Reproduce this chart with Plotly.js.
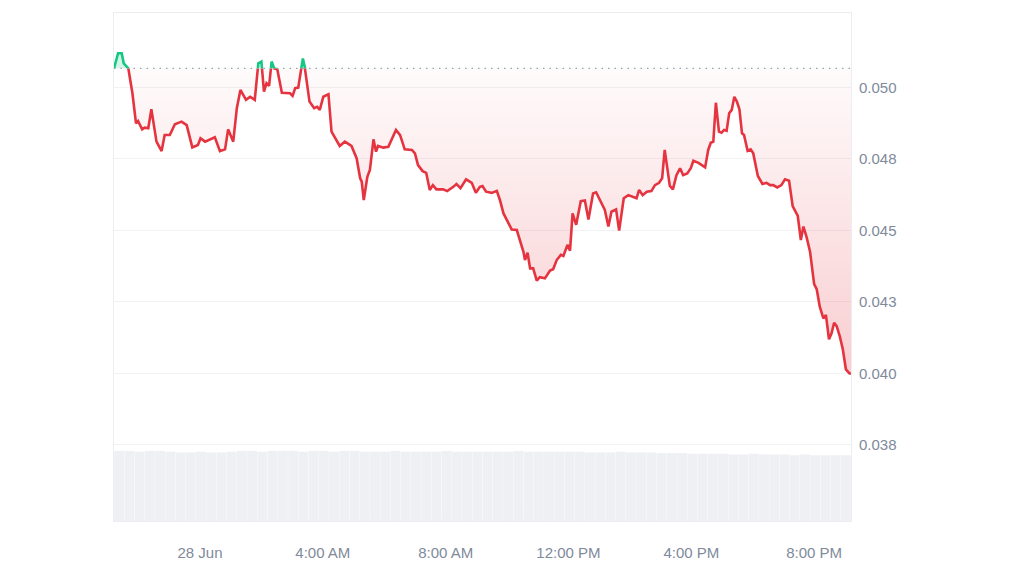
<!DOCTYPE html>
<html>
<head>
<meta charset="utf-8">
<script src="https://cdn.plot.ly/plotly-3.0.1.min.js"></script>
<style>
  html, body { margin: 0; padding: 0; background: #ffffff; }
  #chart { width: 1024px; height: 576px; }
</style>
</head>
<body>
<div id="chart"></div>
<script>
// ---- data ----
const baselinePrice = 0.05066;   // opening price of the 24h window (dotted line)
const windowStart = '2024-06-27 21:12';
const windowEnd = '2024-06-28 21:12';

const times = [
  '2024-06-27 21:12','2024-06-27 21:20','2024-06-27 21:27','2024-06-27 21:31','2024-06-27 21:40',
  '2024-06-27 21:48','2024-06-27 21:55','2024-06-27 21:59','2024-06-27 22:07','2024-06-27 22:12',
  '2024-06-27 22:19','2024-06-27 22:25','2024-06-27 22:35','2024-06-27 22:45','2024-06-27 22:51',
  '2024-06-27 23:01','2024-06-27 23:11','2024-06-27 23:24','2024-06-27 23:34','2024-06-27 23:45',
  '2024-06-27 23:56','2024-06-28 00:01','2024-06-28 00:10','2024-06-28 00:19','2024-06-28 00:29',
  '2024-06-28 00:39','2024-06-28 00:49','2024-06-28 00:55','2024-06-28 01:05','2024-06-28 01:12',
  '2024-06-28 01:19','2024-06-28 01:30','2024-06-28 01:38','2024-06-28 01:47','2024-06-28 01:54',
  '2024-06-28 02:00','2024-06-28 02:05','2024-06-28 02:10','2024-06-28 02:15','2024-06-28 02:20',
  '2024-06-28 02:25','2024-06-28 02:31','2024-06-28 02:40','2024-06-28 02:56','2024-06-28 03:01',
  '2024-06-28 03:06','2024-06-28 03:12','2024-06-28 03:21','2024-06-28 03:25','2024-06-28 03:34',
  '2024-06-28 03:43','2024-06-28 03:49','2024-06-28 03:54','2024-06-28 04:01','2024-06-28 04:11',
  '2024-06-28 04:17','2024-06-28 04:24','2024-06-28 04:33','2024-06-28 04:43','2024-06-28 04:56',
  '2024-06-28 05:06','2024-06-28 05:13','2024-06-28 05:16','2024-06-28 05:20','2024-06-28 05:27',
  '2024-06-28 05:32','2024-06-28 05:39','2024-06-28 05:44','2024-06-28 05:48','2024-06-28 05:58',
  '2024-06-28 06:08','2024-06-28 06:14','2024-06-28 06:23','2024-06-28 06:31','2024-06-28 06:40',
  '2024-06-28 06:54','2024-06-28 07:00','2024-06-28 07:06','2024-06-28 07:15','2024-06-28 07:22',
  '2024-06-28 07:29','2024-06-28 07:35','2024-06-28 07:42','2024-06-28 07:55','2024-06-28 08:03',
  '2024-06-28 08:15','2024-06-28 08:21','2024-06-28 08:29','2024-06-28 08:40','2024-06-28 08:51',
  '2024-06-28 08:59','2024-06-28 09:07','2024-06-28 09:12','2024-06-28 09:19','2024-06-28 09:30',
  '2024-06-28 09:40','2024-06-28 09:46','2024-06-28 09:53','2024-06-28 10:02','2024-06-28 10:09',
  '2024-06-28 10:19','2024-06-28 10:25','2024-06-28 10:32','2024-06-28 10:35','2024-06-28 10:40',
  '2024-06-28 10:45','2024-06-28 10:51','2024-06-28 10:58','2024-06-28 11:04','2024-06-28 11:14',
  '2024-06-28 11:24','2024-06-28 11:30','2024-06-28 11:37','2024-06-28 11:45','2024-06-28 11:50',
  '2024-06-28 11:58','2024-06-28 12:03','2024-06-28 12:08','2024-06-28 12:15','2024-06-28 12:24',
  '2024-06-28 12:32','2024-06-28 12:39','2024-06-28 12:48','2024-06-28 12:54','2024-06-28 13:02',
  '2024-06-28 13:11','2024-06-28 13:18','2024-06-28 13:24','2024-06-28 13:33','2024-06-28 13:39',
  '2024-06-28 13:48','2024-06-28 13:57','2024-06-28 14:13','2024-06-28 14:18','2024-06-28 14:25',
  '2024-06-28 14:33','2024-06-28 14:42','2024-06-28 14:49','2024-06-28 14:57','2024-06-28 15:03',
  '2024-06-28 15:08','2024-06-28 15:13','2024-06-28 15:18','2024-06-28 15:24','2024-06-28 15:31',
  '2024-06-28 15:38','2024-06-28 15:44','2024-06-28 15:52','2024-06-28 15:59','2024-06-28 16:04',
  '2024-06-28 16:14','2024-06-28 16:27','2024-06-28 16:33','2024-06-28 16:38','2024-06-28 16:43',
  '2024-06-28 16:48','2024-06-28 16:54','2024-06-28 16:59','2024-06-28 17:04','2024-06-28 17:09',
  '2024-06-28 17:14','2024-06-28 17:19','2024-06-28 17:24','2024-06-28 17:29','2024-06-28 17:34',
  '2024-06-28 17:39','2024-06-28 17:43','2024-06-28 17:50','2024-06-28 17:56','2024-06-28 18:01',
  '2024-06-28 18:10','2024-06-28 18:19','2024-06-28 18:27','2024-06-28 18:34','2024-06-28 18:40',
  '2024-06-28 18:48','2024-06-28 18:56','2024-06-28 19:03','2024-06-28 19:11','2024-06-28 19:18',
  '2024-06-28 19:28','2024-06-28 19:34','2024-06-28 19:39','2024-06-28 19:45','2024-06-28 19:52',
  '2024-06-28 20:00','2024-06-28 20:05','2024-06-28 20:11','2024-06-28 20:18','2024-06-28 20:23',
  '2024-06-28 20:29','2024-06-28 20:34','2024-06-28 20:39','2024-06-28 20:44','2024-06-28 20:50',
  '2024-06-28 20:56','2024-06-28 21:02','2024-06-28 21:09','2024-06-28 21:12'
];

const prices = [
  0.05066,0.05119,0.05119,0.05084,0.05066,
  0.04979,0.04874,0.04882,0.04853,0.04859,
  0.04857,0.04923,0.04810,0.04777,0.04833,
  0.04833,0.04871,0.04880,0.04868,0.04790,
  0.04798,0.04822,0.04810,0.04818,0.04825,
  0.04777,0.04783,0.04853,0.04810,0.04927,
  0.04991,0.04956,0.04967,0.04956,0.05084,
  0.05090,0.04985,0.05014,0.05005,0.05090,
  0.05066,0.05063,0.04981,0.04979,0.04970,
  0.04997,0.04999,0.05101,0.05066,0.04950,
  0.04927,0.04932,0.04921,0.04967,0.04976,
  0.04845,0.04825,0.04795,0.04810,0.04795,
  0.04752,0.04682,0.04670,0.04606,0.04687,
  0.04711,0.04818,0.04775,0.04795,0.04789,
  0.04792,0.04816,0.04851,0.04833,0.04783,
  0.04781,0.04769,0.04728,0.04707,0.04701,
  0.04641,0.04658,0.04643,0.04643,0.04637,
  0.04652,0.04662,0.04647,0.04678,0.04666,
  0.04631,0.04652,0.04655,0.04635,0.04631,
  0.04638,0.04606,0.04559,0.04524,0.04503,
  0.04501,0.04469,0.04425,0.04396,0.04422,
  0.04367,0.04367,0.04324,0.04336,0.04332,
  0.04359,0.04364,0.04396,0.04414,0.04410,
  0.04449,0.04429,0.04559,0.04519,0.04602,
  0.04604,0.04538,0.04629,0.04633,0.04606,
  0.04571,0.04513,0.04565,0.04573,0.04499,
  0.04612,0.04623,0.04612,0.04641,0.04623,
  0.04635,0.04637,0.04658,0.04666,0.04682,
  0.04781,0.04722,0.04655,0.04643,0.04693,
  0.04717,0.04693,0.04699,0.04717,0.04743,
  0.04736,0.04720,0.04781,0.04806,0.04810,
  0.04946,0.04845,0.04841,0.04851,0.04848,
  0.04909,0.04921,0.04967,0.04950,0.04923,
  0.04839,0.04833,0.04778,0.04783,0.04769,
  0.04690,0.04662,0.04666,0.04658,0.04658,
  0.04650,0.04658,0.04678,0.04673,0.04585,
  0.04550,0.04466,0.04513,0.04478,0.04425,
  0.04312,0.04294,0.04233,0.04192,0.04204,
  0.04119,0.04140,0.04177,0.04165,0.04130,
  0.04084,0.04014,0.04000,0.03998
];

// trading volume, 20-minute buckets (relative units)
const volumes = [
  101,101,100,101,101,100,99,99,100,99,99,100,
  101,101,100,101,101,101,100,101,101,100,101,101,
  100,100,100,101,100,100,100,100,101,100,100,100,
  100,100,100,101,100,100,100,100,100,100,99,99,
  99,100,99,99,99,98,98,98,97,97,97,97,
  96,96,97,96,96,96,95,96,95,95,95,95
];
const volumeBucketMinutes = 20;

const tickVals = ['2024-06-28 00:00','2024-06-28 04:00','2024-06-28 08:00','2024-06-28 12:00','2024-06-28 16:00','2024-06-28 20:00'];
const tickText = ['28 Jun','4:00 AM','8:00 AM','12:00 PM','4:00 PM','8:00 PM'];
const priceTickVals = [0.0375, 0.040, 0.0425, 0.045, 0.0475, 0.050];
const priceTickText = ['0.038','0.040','0.043','0.045','0.048','0.050'];

// ---- build ----
const yMin = 0.034836, yMax = 0.052598;
const split = (baselinePrice - yMin) / (yMax - yMin);

function toDateStr(ms) {
  const d = new Date(ms);
  const p = n => String(n).padStart(2, '0');
  return d.getUTCFullYear() + '-' + p(d.getUTCMonth() + 1) + '-' + p(d.getUTCDate()) + ' ' +
         p(d.getUTCHours()) + ':' + p(d.getUTCMinutes());
}
const startMs = Date.parse(windowStart.replace(' ', 'T') + ':00Z');
const volTimes = volumes.map((v, i) => toDateStr(startMs + (i + 0.5) * volumeBucketMinutes * 60000));

const RED = '#e5343f';
const GREEN = '#16c784';
const textColor = '#808a9b';
const font = 'Liberation Sans, Arial, sans-serif';

const traces = [
  {
    type: 'bar', x: volTimes, y: volumes, xaxis: 'x', yaxis: 'y2',
    marker: { color: '#eef0f3', line: { width: 0 } },
    hoverinfo: 'skip', showlegend: false
  },
  // below-baseline region (red)
  {
    type: 'scatter', mode: 'lines', x: [windowStart, windowEnd], y: [baselinePrice, baselinePrice],
    xaxis: 'x', yaxis: 'y4', line: { width: 0, color: 'rgba(0,0,0,0)' }, hoverinfo: 'skip', showlegend: false
  },
  {
    type: 'scatter', mode: 'lines', x: times, y: prices, xaxis: 'x', yaxis: 'y4',
    line: { color: RED, width: 2.6 }, fill: 'tonexty',
    fillgradient: {
      type: 'vertical',
      start: 0.0400, stop: baselinePrice,
      colorscale: [[0, 'rgba(229,52,63,0.24)'], [1, 'rgba(229,52,63,0.02)']]
    },
    hoverinfo: 'skip', showlegend: false
  },
  // above-baseline region (green)
  {
    type: 'scatter', mode: 'lines', x: [windowStart, windowEnd], y: [baselinePrice, baselinePrice],
    xaxis: 'x', yaxis: 'y3', line: { width: 0, color: 'rgba(0,0,0,0)' }, hoverinfo: 'skip', showlegend: false
  },
  {
    type: 'scatter', mode: 'lines', x: times, y: prices, xaxis: 'x', yaxis: 'y3',
    line: { color: GREEN, width: 2.6 }, fill: 'tonexty',
    fillcolor: 'rgba(22,199,132,0.18)',
    hoverinfo: 'skip', showlegend: false
  }
];

const layout = {
  width: 1024, height: 576,
  margin: { l: 114, r: 173, t: 13, b: 55, pad: 0 },
  paper_bgcolor: '#ffffff', plot_bgcolor: 'rgba(0,0,0,0)',
  font: { family: font, size: 15, color: textColor },
  showlegend: false,
  bargap: 0.03,
  xaxis: {
    type: 'date', range: [windowStart, windowEnd],
    tickmode: 'array', tickvals: tickVals, ticktext: tickText,
    showgrid: false, zeroline: false, ticks: '',
    showline: true, mirror: true, linecolor: '#ebedf0', linewidth: 1,
    ticklabelstandoff: 18,
    tickfont: { family: font, size: 15, color: textColor },
    anchor: 'y'
  },
  yaxis: {
    domain: [0, 1], range: [yMin, yMax], side: 'right',
    tickmode: 'array', tickvals: priceTickVals, ticktext: priceTickText,
    showgrid: true, gridcolor: '#f1f2f4', gridwidth: 1, zeroline: false, ticks: '',
    showline: true, mirror: true, linecolor: '#ebedf0', linewidth: 1,
    ticklabelstandoff: 4,
    tickfont: { family: font, size: 15, color: textColor },
    anchor: 'x'
  },
  yaxis2: {
    domain: [0, 0.15], range: [0, 110], anchor: 'x',
    showgrid: false, zeroline: false, showticklabels: false, ticks: '', showline: false
  },
  yaxis3: {
    domain: [split, 1], range: [baselinePrice, yMax], anchor: 'x',
    showgrid: false, zeroline: false, showticklabels: false, ticks: '', showline: false
  },
  yaxis4: {
    domain: [0, split], range: [yMin, baselinePrice], anchor: 'x',
    showgrid: false, zeroline: false, showticklabels: false, ticks: '', showline: false
  },
  shapes: [{
    type: 'line', xref: 'paper', x0: 0, x1: 1, yref: 'y', y0: baselinePrice, y1: baselinePrice,
    line: { color: '#9aa1ab', width: 1.3, dash: '1.5px,5px' }, layer: 'above'
  }]
};

Plotly.newPlot('chart', traces, layout, { displayModeBar: false, staticPlot: true });
</script>
</body>
</html>
